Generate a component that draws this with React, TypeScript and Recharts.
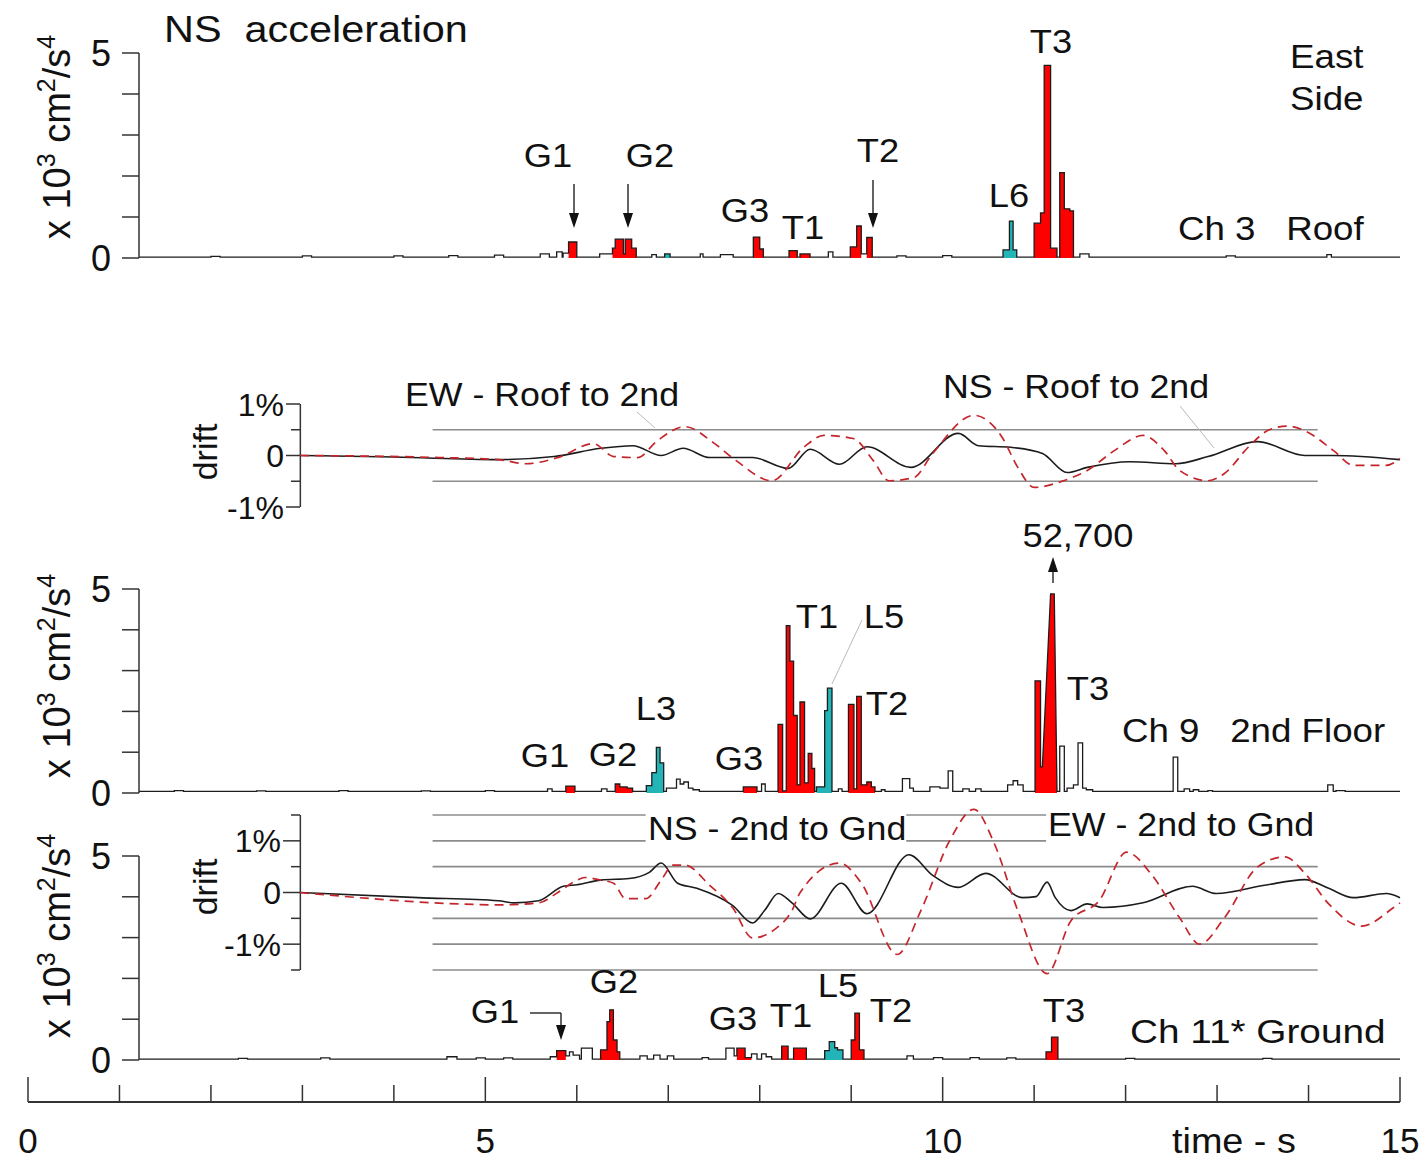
import React from 'react';
import { ComposedChart, Line, Area, XAxis, YAxis, ReferenceLine } from 'recharts';

const FONT = '"Liberation Sans", Arial, Helvetica, sans-serif';
const PAGE_W = 1427;
const PAGE_H = 1160;
const T_MAX = 15;
const PX_T0 = 28;
const PX_T15 = 1400;
const PX_PER_S = (PX_T15 - PX_T0) / T_MAX;
const ACC_AXIS_PX = 139;
const DRIFT_AXIS_PX = 300;
const ACC_AXIS_T = (ACC_AXIS_PX - PX_T0) / PX_PER_S;
const DRIFT_AXIS_T = (DRIFT_AXIS_PX - PX_T0) / PX_PER_S;
const Y_AXIS_W = 60;

const RED = '#ff0000';
const CYAN = '#22b4b6';
const DASH_RED = '#c4262c';
const INK = '#1c1c1c';
const GRID = '#8c8c8c';

type Bin = [number, number, number, string];

// ---------- acceleration traces: [start s, end s, value x10^3, colour] ----------
const roofBase = 0.02;
const roofBins: Bin[] = [
  [2.0, 2.1, 0.04, ''], [3.0, 3.1, 0.05, ''], [4.0, 4.1, 0.05, ''], [4.6, 4.7, 0.06, ''],
  [5.1, 5.2, 0.07, ''], [5.6, 5.7, 0.1, ''], [5.78, 5.84, 0.15, ''], [5.85, 5.91, 0.12, ''],
  [5.91, 6.0, 0.39, 'r'],
  [6.25, 6.39, 0.1, ''],
  [6.39, 6.42, 0.24, 'r'], [6.42, 6.51, 0.46, 'r'], [6.51, 6.53, 0.1, 'r'], [6.53, 6.6, 0.46, 'r'], [6.6, 6.65, 0.24, 'r'],
  [6.82, 6.87, 0.08, ''],
  [6.96, 7.02, 0.1, 'c'],
  [7.35, 7.38, 0.1, ''], [7.57, 7.71, 0.08, ''],
  [7.93, 8.0, 0.51, 'r'], [8.0, 8.04, 0.22, 'r'],
  [8.32, 8.41, 0.18, 'r'], [8.44, 8.55, 0.1, 'r'],
  [8.75, 8.8, 0.15, ''],
  [8.99, 9.06, 0.27, 'r'], [9.06, 9.11, 0.78, 'r'], [9.11, 9.17, 0.1, ''], [9.17, 9.23, 0.5, 'r'],
  [9.5, 9.6, 0.05, ''], [10.0, 10.1, 0.06, ''],
  [10.66, 10.73, 0.2, 'c'], [10.73, 10.77, 0.9, 'c'], [10.77, 10.81, 0.2, 'c'],
  [11.0, 11.07, 0.85, 'r'], [11.07, 11.11, 1.1, 'r'], [11.11, 11.18, 4.7, 'r'], [11.18, 11.25, 0.24, 'r'],
  [11.28, 11.33, 2.08, 'r'], [11.33, 11.39, 1.2, 'r'], [11.39, 11.43, 1.15, 'r'],
  [11.5, 11.6, 0.1, ''], [13.1, 13.2, 0.05, ''], [14.2, 14.25, 0.08, ''],
];

const ch9Base = 0.04;
const ch9BinsBefore: Bin[] = [
  [1.6, 1.7, 0.06, ''], [2.5, 2.6, 0.05, ''], [3.4, 3.5, 0.06, ''], [4.3, 4.4, 0.05, ''], [5.0, 5.1, 0.06, ''],
  [5.68, 5.73, 0.1, ''],
  [5.88, 5.98, 0.17, 'r'],
  [6.27, 6.33, 0.1, ''],
  [6.42, 6.47, 0.22, 'r'], [6.47, 6.55, 0.15, 'r'], [6.55, 6.61, 0.12, 'r'],
  [6.76, 6.82, 0.18, 'c'], [6.82, 6.87, 0.5, 'c'], [6.87, 6.91, 1.12, 'c'], [6.91, 6.95, 0.74, 'c'],
  [6.98, 7.09, 0.12, ''], [7.09, 7.13, 0.34, ''], [7.13, 7.17, 0.22, ''], [7.17, 7.22, 0.27, ''], [7.22, 7.27, 0.12, ''], [7.27, 7.34, 0.08, ''],
  [7.82, 7.97, 0.15, 'r'],
  [8.02, 8.06, 0.22, ''],
  [8.2, 8.25, 1.68, 'r'], [8.25, 8.29, 0.05, 'r'], [8.29, 8.33, 4.1, 'r'], [8.33, 8.37, 3.23, 'r'], [8.37, 8.41, 1.9, 'r'],
  [8.41, 8.44, 0.2, 'r'], [8.44, 8.49, 2.23, 'r'], [8.49, 8.53, 0.25, 'r'], [8.53, 8.57, 0.97, 'r'], [8.57, 8.6, 0.6, 'r'],
  [8.62, 8.71, 0.15, 'c'], [8.71, 8.74, 2.02, 'c'], [8.74, 8.79, 2.57, 'c'],
  [8.86, 8.9, 0.1, ''],
  [8.97, 9.03, 2.17, 'r'], [9.03, 9.06, 0.1, 'r'], [9.06, 9.11, 2.37, 'r'], [9.11, 9.17, 0.2, 'r'], [9.17, 9.22, 0.27, 'r'], [9.22, 9.26, 0.15, 'r'],
  [9.33, 9.37, 0.08, ''],
  [9.56, 9.64, 0.35, ''], [9.64, 9.68, 0.12, ''],
  [9.86, 9.97, 0.15, ''], [9.97, 10.06, 0.12, ''], [10.06, 10.11, 0.54, ''],
  [10.22, 10.29, 0.1, ''], [10.36, 10.42, 0.1, ''],
  [10.71, 10.77, 0.2, ''], [10.77, 10.82, 0.3, ''], [10.82, 10.88, 0.2, ''],
];
const ch9PeakT = [11.01, 11.01, 11.07, 11.07, 11.09, 11.18, 11.22, 11.25];
const ch9PeakA = [0.04, 2.75, 2.75, 0.64, 0.64, 4.88, 4.88, 0.04];
const ch9BinsAfter: Bin[] = [
  [11.28, 11.33, 1.15, ''], [11.36, 11.43, 0.12, ''], [11.43, 11.48, 0.2, ''], [11.48, 11.53, 1.23, ''],
  [11.53, 11.57, 0.12, ''], [11.57, 11.64, 0.08, ''],
  [12.52, 12.57, 0.88, ''], [12.64, 12.7, 0.1, ''], [12.74, 12.8, 0.08, ''], [12.9, 12.95, 0.06, ''],
  [14.21, 14.27, 0.2, ''], [14.3, 14.4, 0.06, ''],
];

const gndBase = 0.02;
const gndBins: Bin[] = [
  [2.3, 2.4, 0.04, ''], [3.2, 3.3, 0.05, ''], [4.58, 4.69, 0.08, ''], [4.9, 5.0, 0.05, ''], [5.2, 5.3, 0.05, ''],
  [5.71, 5.78, 0.08, ''],
  [5.78, 5.88, 0.23, 'r'],
  [5.88, 5.92, 0.1, ''], [5.92, 5.96, 0.2, ''], [5.96, 6.03, 0.12, ''], [6.05, 6.17, 0.29, ''],
  [6.26, 6.33, 0.25, 'r'], [6.33, 6.36, 0.94, 'r'], [6.36, 6.4, 1.23, 'r'], [6.4, 6.44, 0.49, 'r'], [6.44, 6.47, 0.2, 'r'],
  [6.69, 6.77, 0.1, ''], [6.84, 6.91, 0.12, ''], [6.99, 7.06, 0.1, ''], [7.37, 7.44, 0.06, ''],
  [7.63, 7.72, 0.29, ''], [7.72, 7.75, 0.1, ''],
  [7.75, 7.84, 0.29, 'r'], [7.84, 7.91, 0.06, 'r'],
  [7.91, 7.97, 0.15, ''], [8.02, 8.07, 0.15, ''], [8.07, 8.13, 0.08, ''],
  [8.24, 8.31, 0.34, 'r'], [8.37, 8.51, 0.29, 'r'],
  [8.71, 8.76, 0.23, 'c'], [8.76, 8.82, 0.45, 'c'], [8.82, 8.85, 0.3, 'c'], [8.85, 8.91, 0.25, 'c'],
  [9.0, 9.04, 0.49, 'r'], [9.04, 9.09, 1.15, 'r'], [9.09, 9.14, 0.25, 'r'],
  [9.61, 9.68, 0.1, ''], [9.9, 10.0, 0.06, ''], [10.3, 10.4, 0.06, ''], [10.7, 10.8, 0.05, ''],
  [11.13, 11.19, 0.2, 'r'], [11.19, 11.26, 0.56, 'r'],
  [12.0, 12.1, 0.04, ''], [13.5, 13.6, 0.04, ''],
];

// ---------- drift traces (% of storey height) ----------
const roofNsT = [2.97, 4.0, 5.14, 5.75, 6.26, 6.61, 6.92, 7.16, 7.45, 7.92, 8.31, 8.55, 8.87, 9.17, 9.65, 10.17, 10.39, 10.74, 11.09, 11.36, 11.58, 12.05, 12.55, 12.9, 13.44, 13.96, 14.27, 15.0];
const roofNsV = [0.0, -0.03, -0.08, -0.02, 0.14, 0.19, 0.0, 0.14, -0.04, -0.04, -0.25, 0.12, -0.17, 0.17, -0.23, 0.43, 0.19, 0.16, 0.04, -0.33, -0.23, -0.12, -0.16, -0.02, 0.27, 0.0, 0.0, -0.08];
const roofEwT = [2.97, 4.5, 5.14, 5.44, 5.79, 6.18, 6.4, 6.66, 6.88, 7.18, 7.49, 7.74, 8.13, 8.48, 8.7, 9.02, 9.24, 9.41, 9.68, 9.89, 10.34, 10.65, 10.82, 11.0, 11.32, 11.58, 11.88, 12.19, 12.42, 12.59, 12.9, 13.08, 13.34, 13.57, 13.77, 13.96, 14.27, 14.49, 14.85, 15.0];
const roofEwV = [0.0, -0.04, -0.08, -0.16, -0.04, 0.23, -0.02, -0.04, 0.29, 0.56, 0.25, -0.1, -0.49, 0.16, 0.39, 0.33, -0.1, -0.49, -0.43, 0.04, 0.78, 0.35, -0.23, -0.62, -0.49, -0.29, 0.1, 0.39, 0.1, -0.29, -0.49, -0.35, 0.16, 0.5, 0.57, 0.48, 0.1, -0.19, -0.19, -0.06];

const gndNsT = [2.97, 4.26, 5.14, 5.31, 5.58, 5.85, 6.0, 6.26, 6.57, 6.79, 6.92, 7.1, 7.31, 7.7, 7.92, 8.05, 8.2, 8.35, 8.55, 8.89, 9.17, 9.63, 9.89, 10.17, 10.47, 10.87, 11.02, 11.14, 11.23, 11.4, 11.58, 11.75, 12.19, 12.73, 12.99, 13.52, 13.96, 14.22, 14.49, 14.85, 15.0];
const gndNsV = [0.0, -0.1, -0.16, -0.2, -0.16, 0.12, 0.15, 0.24, 0.27, 0.39, 0.57, 0.18, 0.08, -0.25, -0.59, -0.35, -0.02, -0.2, -0.51, 0.18, -0.41, 0.73, 0.33, 0.1, 0.37, -0.1, -0.08, 0.2, -0.1, -0.35, -0.22, -0.29, -0.2, 0.12, -0.02, 0.14, 0.25, 0.08, -0.1, -0.02, -0.1];
const gndEwT = [2.97, 4.7, 5.14, 5.58, 5.79, 5.96, 6.09, 6.26, 6.4, 6.53, 6.75, 6.92, 7.05, 7.18, 7.45, 7.7, 7.92, 8.18, 8.35, 8.44, 8.87, 9.11, 9.5, 9.76, 10.08, 10.34, 10.56, 10.82, 11.14, 11.4, 11.71, 12.01, 12.29, 12.59, 12.81, 13.08, 13.44, 13.74, 13.96, 14.22, 14.58, 14.93, 15.0];
const gndEwV = [0.0, -0.22, -0.24, -0.2, 0.0, 0.2, 0.29, 0.24, 0.18, -0.12, -0.12, 0.24, 0.53, 0.53, 0.14, -0.29, -0.88, -0.69, -0.35, 0.0, 0.57, 0.18, -1.2, -0.35, 1.02, 1.61, 0.96, -0.35, -1.57, -0.55, -0.16, 0.78, 0.33, -0.49, -1.0, -0.49, 0.49, 0.69, 0.37, -0.22, -0.65, -0.29, -0.2];

// ---------- ticks & guide levels ----------
const accTicks = [0, 1, 2, 3, 4, 5];
const accTickLabels: Record<number, string> = { 0: '0', 5: '5' };
const roofDriftTicks = [-1, -0.5, 0, 0.5, 1];
const gndDriftTicks = [-1.5, -1, -0.5, 0, 0.5, 1, 1.5];
const driftTickLabels: Record<number, string> = { 1: '1%', 0: '0', [-1]: '-1%' };
const timeTicks = [0, 1, 2, 3, 4, 5, 6, 7, 8, 9, 10, 11, 12, 13, 14, 15];
const timeTickLabels: Record<number, string> = { 0: '0', 5: '5', 10: '10', 15: '15' };
const guideFrom = 4.42;
const guideTo = 14.1;
const roofGuideLevels = [0.5, -0.5];
const gndGuideLevels = [0.5, -0.5, -1, -1.5];
const gndUpperGuideLevels = [1, 1.5];
const gndUpperGuideSpans: [number, number][] = [[4.42, 6.75], [9.6, 11.13]];

// ---------- builders ----------
type Row = { t: number; all: number; red: number; cyan: number };
function stepRows(bins: Bin[], base: number, from: number, to: number): Row[] {
  const out: Row[] = [];
  let cur = from;
  const push = (t0: number, t1: number, a: number, c: string) => {
    const r = { all: a, red: c === 'r' ? a : 0, cyan: c === 'c' ? a : 0 };
    out.push({ t: t0, ...r }, { t: t1, ...r });
  };
  for (const [t0, t1, a, c] of bins) {
    if (t0 > cur) push(cur, t0, base, '');
    push(t0, t1, a, c);
    cur = t1;
  }
  if (to > cur) push(cur, to, base, '');
  return out;
}
function pathRows(ts: number[], as: number[], c: string): Row[] {
  return ts.map((t, i) => ({ t, all: as[i], red: c === 'r' ? as[i] : 0, cyan: c === 'c' ? as[i] : 0 }));
}
function zip(ts: number[], vs: number[]) {
  return ts.map((t, i) => ({ t, v: vs[i] }));
}

const roofRows = stepRows(roofBins, roofBase, ACC_AXIS_T, T_MAX);
const ch9Rows = [
  ...stepRows(ch9BinsBefore, ch9Base, ACC_AXIS_T, 11.01),
  ...pathRows(ch9PeakT, ch9PeakA, 'r'),
  ...stepRows(ch9BinsAfter, ch9Base, 11.25, T_MAX),
];
const gndRows = stepRows(gndBins, gndBase, ACC_AXIS_T, T_MAX);

// ---------- tick renderers ----------
function AccTick(props: any) {
  const { x, y, payload } = props;
  const label = accTickLabels[payload.value];
  return (
    <g>
      <line x1={x - 17} x2={x} y1={y} y2={y} stroke="#333" strokeWidth={1.5} />
      {label ? (
        <text x={x - 28} y={y} dy="0.36em" textAnchor="end" fontSize={36} fontFamily={FONT} fill="#111">
          {label}
        </text>
      ) : null}
    </g>
  );
}
function makeDriftTick(longLen: number) {
  return (props: any) => {
    const { x, y, payload } = props;
    const label = driftTickLabels[payload.value];
    const len = label ? longLen : 9;
    return (
      <g>
        <line x1={x - len} x2={x} y1={y} y2={y} stroke="#333" strokeWidth={1.5} />
        {label ? (
          <text x={x - longLen - 2} y={y} dy="0.36em" textAnchor="end" fontSize={32} fontFamily={FONT} fill="#111">
            {label}
          </text>
        ) : null}
      </g>
    );
  };
}
function TimeTick(props: any) {
  const { x, y, payload } = props;
  const label = timeTickLabels[payload.value];
  const len = label ? 25 : 17;
  return (
    <g>
      <line x1={x} x2={x} y1={y} y2={y - len} stroke="#333" strokeWidth={1.5} />
      {label ? (
        <text x={x} y={y + 51} textAnchor="middle" fontSize={35} fontFamily={FONT} fill="#111">
          {label}
        </text>
      ) : null}
    </g>
  );
}

// ---------- panels ----------
function AccPanel({ rows, svgTop, svgH, yTopPx, yBotPx }: { rows: Row[]; svgTop: number; svgH: number; yTopPx: number; yBotPx: number }) {
  return (
    <div style={{ position: 'absolute', left: 0, top: svgTop }}>
      <ComposedChart
        width={PAGE_W}
        height={svgH}
        data={rows}
        margin={{ top: yTopPx - svgTop, bottom: svgTop + svgH - yBotPx, left: ACC_AXIS_PX - Y_AXIS_W, right: PAGE_W - PX_T15 }}
      >
        <XAxis type="number" dataKey="t" domain={[ACC_AXIS_T, T_MAX]} hide allowDataOverflow />
        <YAxis
          type="number"
          domain={[0, 5]}
          ticks={accTicks}
          interval={0}
          width={Y_AXIS_W}
          tickLine={false}
          tickSize={0}
          tickMargin={0}
          tick={AccTick}
          axisLine={{ stroke: '#333', strokeWidth: 1.5 }}
        />
        <Area dataKey="red" type="linear" fill={RED} fillOpacity={1} stroke="none" isAnimationActive={false} />
        <Area dataKey="cyan" type="linear" fill={CYAN} fillOpacity={1} stroke="none" isAnimationActive={false} />
        <Line dataKey="all" type="linear" stroke={INK} strokeWidth={1.3} dot={false} isAnimationActive={false} />
      </ComposedChart>
    </div>
  );
}

function DriftPanel({
  ns, ew, svgTop, svgH, domain, zeroPx, pxPerPct, ticks, axisRange, longTick, children,
}: {
  ns: { t: number; v: number }[]; ew: { t: number; v: number }[]; svgTop: number; svgH: number;
  domain: [number, number]; zeroPx: number; pxPerPct: number; ticks: number[]; axisRange: [number, number]; longTick: number; children?: any;
}) {
  const yTopPx = zeroPx - domain[1] * pxPerPct;
  const yBotPx = zeroPx - domain[0] * pxPerPct;
  return (
    <div style={{ position: 'absolute', left: 0, top: svgTop }}>
      <ComposedChart
        width={PAGE_W}
        height={svgH}
        margin={{ top: yTopPx - svgTop, bottom: svgTop + svgH - yBotPx, left: DRIFT_AXIS_PX - Y_AXIS_W, right: PAGE_W - PX_T15 }}
      >
        <XAxis type="number" dataKey="t" domain={[DRIFT_AXIS_T, T_MAX]} hide />
        <YAxis
          type="number"
          domain={domain}
          ticks={ticks}
          interval={0}
          width={Y_AXIS_W}
          tickLine={false}
          tickSize={0}
          tickMargin={0}
          tick={makeDriftTick(longTick)}
          axisLine={false}
        />
        <ReferenceLine
          segment={[{ x: DRIFT_AXIS_T, y: axisRange[0] }, { x: DRIFT_AXIS_T, y: axisRange[1] }]}
          stroke="#333"
          strokeWidth={1.5}
          ifOverflow="visible"
        />
        {children}
        <Line data={ns} dataKey="v" type="monotone" stroke={INK} strokeWidth={1.6} dot={false} isAnimationActive={false} />
        <Line data={ew} dataKey="v" type="monotone" stroke={DASH_RED} strokeWidth={1.7} strokeDasharray="9 6" dot={false} isAnimationActive={false} />
      </ComposedChart>
    </div>
  );
}

function guideLine(level: number, from: number, to: number, key: string) {
  return (
    <ReferenceLine
      key={key}
      segment={[{ x: from, y: level }, { x: to, y: level }]}
      stroke={GRID}
      strokeWidth={1.6}
      ifOverflow="visible"
    />
  );
}

function TimeAxis() {
  const rows = timeTicks.map((t) => ({ t }));
  return (
    <div style={{ position: 'absolute', left: 0, top: 1060 }}>
      <ComposedChart width={PAGE_W} height={100} data={rows} margin={{ top: 10, bottom: 18, left: PX_T0, right: PAGE_W - PX_T15 }}>
        <XAxis
          type="number"
          dataKey="t"
          domain={[0, T_MAX]}
          ticks={timeTicks}
          interval={0}
          height={40}
          tickLine={false}
          tickSize={0}
          tickMargin={0}
          tick={TimeTick}
          axisLine={{ stroke: '#333', strokeWidth: 2 }}
        />
        <YAxis hide domain={[0, 1]} />
      </ComposedChart>
    </div>
  );
}

// ---------- annotation overlay ----------
const SX = 1.1;
function T({ x, y, s = 33, a = 'middle', sx = SX, children }: { x: number; y: number; s?: number; a?: string; sx?: number; children: any }) {
  return (
    <text
      transform={`translate(${x},${y}) scale(${sx},1)`}
      x={0}
      y={0}
      fontSize={s}
      textAnchor={a as any}
      fontFamily={FONT}
      fill="#111"
      style={{ whiteSpace: 'pre' }}
    >
      {children}
    </text>
  );
}
function Arrow({ x1, y1, x2, y2 }: { x1: number; y1: number; x2: number; y2: number }) {
  const dx = x2 - x1, dy = y2 - y1;
  const L = Math.hypot(dx, dy) || 1;
  const ux = dx / L, uy = dy / L;
  const hl = 15, hw = 5;
  const bx = x2 - ux * hl, by = y2 - uy * hl;
  return (
    <g>
      <line x1={x1} y1={y1} x2={bx} y2={by} stroke="#222" strokeWidth={1.4} />
      <polygon points={`${x2},${y2} ${bx - uy * hw},${by + ux * hw} ${bx + uy * hw},${by - ux * hw}`} fill="#111" />
    </g>
  );
}
function UnitLabel({ cx, cy }: { cx: number; cy: number }) {
  return (
    <text transform={`translate(${cx},${cy}) rotate(-90)`} textAnchor="middle" fontSize={38} fontFamily={FONT} fill="#111">
      x 10<tspan dy={-15} fontSize={25}>3</tspan>
      <tspan dy={15}> cm</tspan>
      <tspan dy={-15} fontSize={25}>2</tspan>
      <tspan dy={15}>/s</tspan>
      <tspan dy={-15} fontSize={25}>4</tspan>
    </text>
  );
}
function DriftLabel({ cx, cy }: { cx: number; cy: number }) {
  return (
    <text transform={`translate(${cx},${cy}) rotate(-90)`} textAnchor="middle" fontSize={34} fontFamily={FONT} fill="#111">
      drift
    </text>
  );
}

function Overlay() {
  return (
    <svg width={PAGE_W} height={PAGE_H} style={{ position: 'absolute', left: 0, top: 0, pointerEvents: 'none' }}>
      {/* roof panel */}
      <T x={164} y={42} s={37} a="start" sx={1.12}>{'NS  acceleration'}</T>
      <UnitLabel cx={70} cy={137} />
      <T x={1051} y={53}>T3</T>
      <T x={1290} y={68} s={34} a="start" sx={1.08}>East</T>
      <T x={1290} y={110} s={34} a="start" sx={1.08}>Side</T>
      <T x={548} y={167}>G1</T>
      <T x={650} y={167}>G2</T>
      <T x={745} y={222}>G3</T>
      <T x={803} y={239}>T1</T>
      <T x={878} y={162}>T2</T>
      <T x={1009} y={207}>L6</T>
      <T x={1178} y={240} s={34} a="start" sx={1.08}>{'Ch 3   Roof'}</T>
      <Arrow x1={574} y1={184} x2={574} y2={228} />
      <Arrow x1={628} y1={184} x2={628} y2={228} />
      <Arrow x1={873} y1={180} x2={873} y2={228} />

      {/* roof drift */}
      <T x={542} y={406} s={32.5}>EW - Roof to 2nd</T>
      <T x={1076} y={398} s={32.5}>NS - Roof to 2nd</T>
      <line x1={637} y1={412} x2={655} y2={428} stroke="#bbb" strokeWidth={1} />
      <line x1={1180} y1={406} x2={1214} y2={448} stroke="#bbb" strokeWidth={1} />
      <DriftLabel cx={217} cy={452} />

      {/* 2nd floor */}
      <UnitLabel cx={70} cy={676} />
      <T x={1078} y={547}>52,700</T>
      <Arrow x1={1053} y1={583} x2={1053} y2={557} />
      <T x={817} y={628}>T1</T>
      <T x={884} y={628}>L5</T>
      <line x1={862} y1={620} x2={832} y2={684} stroke="#bbb" strokeWidth={1} />
      <T x={887} y={715}>T2</T>
      <T x={656} y={720}>L3</T>
      <T x={545} y={767}>G1</T>
      <T x={613} y={766}>G2</T>
      <T x={739} y={770}>G3</T>
      <T x={1088} y={700}>T3</T>
      <T x={1122} y={742} s={34} a="start" sx={1.08}>{'Ch 9   2nd Floor'}</T>

      {/* ground drift */}
      <T x={648} y={840} s={32.5} a="start">NS - 2nd to Gnd</T>
      <T x={1048} y={836} s={32.5} a="start">EW - 2nd to Gnd</T>
      <DriftLabel cx={217} cy={887} />

      {/* ground */}
      <UnitLabel cx={70} cy={936} />
      <T x={495} y={1023}>G1</T>
      <line x1={530} y1={1013} x2={561} y2={1013} stroke="#222" strokeWidth={1.4} />
      <Arrow x1={561} y1={1013} x2={561} y2={1040} />
      <T x={614} y={993}>G2</T>
      <T x={733} y={1030}>G3</T>
      <T x={791} y={1027}>T1</T>
      <T x={838} y={997}>L5</T>
      <T x={891} y={1022}>T2</T>
      <T x={1064} y={1022}>T3</T>
      <T x={1130} y={1043} s={34} a="start" sx={1.14}>{'Ch 11* Ground'}</T>

      {/* time axis title */}
      <T x={1172} y={1153} s={35} a="start" sx={1.08}>time - s</T>
    </svg>
  );
}

export default function App() {
  const pctRoof = 51.5;
  const pctGnd = (970 - 815) / 3;
  return (
    <div style={{ position: 'absolute', left: 0, top: 0, width: PAGE_W, height: PAGE_H, background: '#fff', overflow: 'hidden', fontFamily: FONT }}>
      <AccPanel rows={roofRows} svgTop={0} svgH={290} yTopPx={53} yBotPx={258} />
      <DriftPanel
        ns={zip(roofNsT, roofNsV)}
        ew={zip(roofEwT, roofEwV)}
        svgTop={380}
        svgH={150}
        domain={[-1, 1]}
        zeroPx={455.5}
        pxPerPct={pctRoof}
        ticks={roofDriftTicks}
        axisRange={[-1, 1]}
        longTick={14}
      >
        {roofGuideLevels.map((l, i) => guideLine(l, guideFrom, guideTo, 'rg' + i))}
      </DriftPanel>
      <AccPanel rows={ch9Rows} svgTop={550} svgH={270} yTopPx={589} yBotPx={793} />
      <AccPanel rows={gndRows} svgTop={815} svgH={265} yTopPx={856} yBotPx={1060} />
      <DriftPanel
        ns={zip(gndNsT, gndNsV)}
        ew={zip(gndEwT, gndEwV)}
        svgTop={790}
        svgH={200}
        domain={[-1.7, 1.7]}
        zeroPx={892.5}
        pxPerPct={pctGnd}
        ticks={gndDriftTicks}
        axisRange={[-1.5, 1.5]}
        longTick={17}
      >
        {gndGuideLevels.map((l, i) => guideLine(l, guideFrom, guideTo, 'gg' + i))}
        {gndUpperGuideLevels.flatMap((l, i) =>
          gndUpperGuideSpans.map(([a, b], j) => guideLine(l, a, b, 'gu' + i + '-' + j)),
        )}
      </DriftPanel>
      <TimeAxis />
      <Overlay />
    </div>
  );
}
